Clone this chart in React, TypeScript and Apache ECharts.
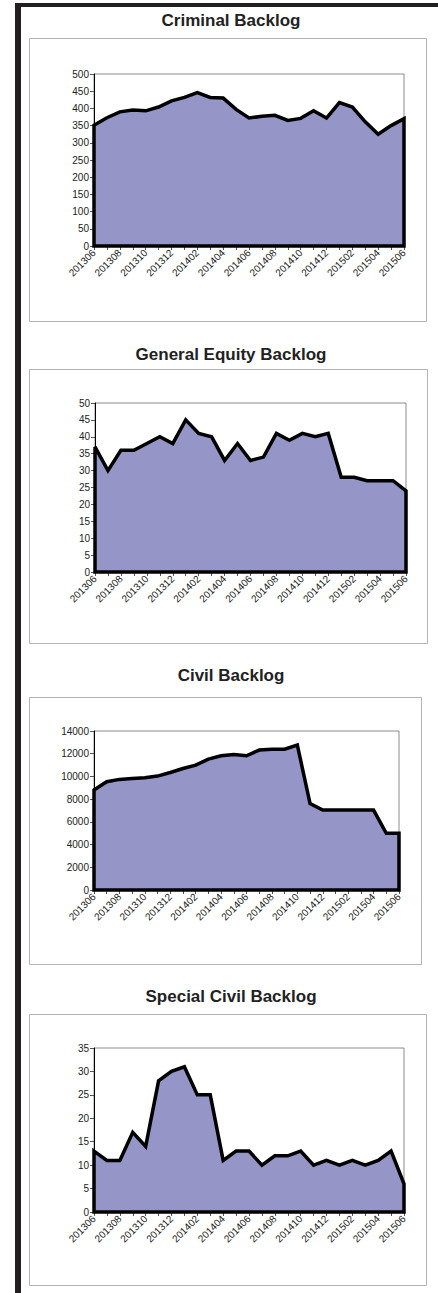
import React, { useEffect, useRef } from "react";
import * as echarts from "echarts";

const months = [
  "201306", "201307", "201308", "201309", "201310", "201311", "201312",
  "201401", "201402", "201403", "201404", "201405", "201406", "201407",
  "201408", "201409", "201410", "201411", "201412", "201501", "201502",
  "201503", "201504", "201505", "201506",
];

const criminal = [351, 373, 390, 395, 393, 404, 422, 432, 446, 432, 430, 397, 372, 377, 380, 365, 371, 393, 372, 417, 404, 361, 325, 350, 370];
const generalEquity = [37, 30, 36, 36, 38, 40, 38, 45, 41, 40, 33, 38, 33, 34, 41, 39, 41, 40, 41, 28, 28, 27, 27, 27, 24];
const civil = [8800, 9530, 9740, 9820, 9880, 10030, 10350, 10700, 11000, 11520, 11820, 11930, 11820, 12320, 12400, 12400, 12760, 7620, 7040, 7040, 7040, 7040, 7040, 4990, 4990];
const specialCivil = [13, 11, 11, 17, 14, 28, 30, 31, 25, 25, 11, 13, 13, 10, 12, 12, 13, 10, 11, 10, 11, 10, 11, 13, 6];

const titles = ["Criminal Backlog", "General Equity Backlog", "Civil Backlog", "Special Civil Backlog"];
const yMax = [500, 50, 14000, 35];
const yInterval = [50, 5, 2000, 5];
const seriesData = [criminal, generalEquity, civil, specialCivil];

const FONT = "Arial, 'Liberation Sans', sans-serif";

export default function App() {
  const ref = useRef<HTMLDivElement>(null);
  useEffect(() => {
    document.body.style.margin = "0";
    const chart = echarts.init(ref.current!, null, { renderer: "svg" });

    const boxes = [
      { x: 29, y: 38, w: 397, h: 283 },
      { x: 29, y: 369, w: 398, h: 274 },
      { x: 29, y: 697, w: 392, h: 267 },
      { x: 29, y: 1014, w: 397, h: 271 },
    ];
    const titleY = [20, 354, 675, 996];
    const grids = [
      { left: 94, top: 74, width: 310, height: 172 },
      { left: 95, top: 403, width: 311, height: 169 },
      { left: 94, top: 731, width: 305, height: 159 },
      { left: 94, top: 1048, width: 310, height: 164 },
    ];

    const graphic: any[] = [];
    boxes.forEach((b) => {
      graphic.push({
        type: "rect",
        z: -10,
        shape: { x: b.x + 0.5, y: b.y + 0.5, width: b.w, height: b.h },
        style: { fill: "#fff", stroke: "#b4b4b4", lineWidth: 1 },
      });
    });
    titles.forEach((t, i) => {
      graphic.push({
        type: "text",
        x: 231,
        y: titleY[i],
        style: {
          text: t,
          font: `bold 17px ${FONT}`,
          fill: "#222",
          textAlign: "center",
          textVerticalAlign: "middle",
        },
      });
    });
    graphic.push({ type: "rect", shape: { x: 15, y: 3, width: 6, height: 1290 }, style: { fill: "#231f20" } });
    graphic.push({ type: "rect", shape: { x: 15, y: 3, width: 423, height: 4 }, style: { fill: "#231f20" } });

    const option: any = {
      animation: false,
      backgroundColor: "#fff",
      graphic,
      grid: grids.map((g) => ({
        ...g,
        show: true,
        backgroundColor: "#fff",
        borderColor: "#8c8c8c",
        borderWidth: 1,
        containLabel: false,
      })),
      xAxis: grids.map((_, i) => ({
        type: "category",
        gridIndex: i,
        data: months,
        boundaryGap: false,
        axisLine: { show: true, lineStyle: { color: "#000", width: 1 } },
        axisTick: { show: true, interval: 0, length: 4, lineStyle: { color: "#555" } },
        axisLabel: {
          interval: 1,
          rotate: 45,
          fontSize: 10,
          fontFamily: FONT,
          color: "#222",
          margin: 5,
        },
        splitLine: { show: false },
      })),
      yAxis: grids.map((_, i) => ({
        type: "value",
        gridIndex: i,
        min: 0,
        max: yMax[i],
        interval: yInterval[i],
        axisLine: { show: true, lineStyle: { color: "#000", width: 1 } },
        axisTick: { show: true, length: 4, lineStyle: { color: "#555" } },
        axisLabel: {
          fontSize: 10,
          fontFamily: FONT,
          color: "#222",
          margin: 5,
          formatter: (v: number) => String(v),
        },
        splitLine: { show: false },
      })),
      series: seriesData.map((vals, i) => ({
        type: "custom",
        xAxisIndex: i,
        yAxisIndex: i,
        data: vals.map((v, j) => [j, v]),
        encode: { x: 0, y: 1 },
        renderItem: (params: any, api: any) => {
          if (params.dataIndex !== 0) return null;
          const pts: number[][] = [api.coord([0, 0])];
          vals.forEach((v, j) => pts.push(api.coord([j, v])));
          pts.push(api.coord([vals.length - 1, 0]));
          return {
            type: "polygon",
            shape: { points: pts },
            style: { fill: "#9595c8", stroke: "#000", lineWidth: 3.5, lineJoin: "miter" },
          };
        },
      })),
    };
    chart.setOption(option);
    return () => chart.dispose();
  }, []);
  return <div ref={ref} style={{ width: 438, height: 1293 }} />;
}
